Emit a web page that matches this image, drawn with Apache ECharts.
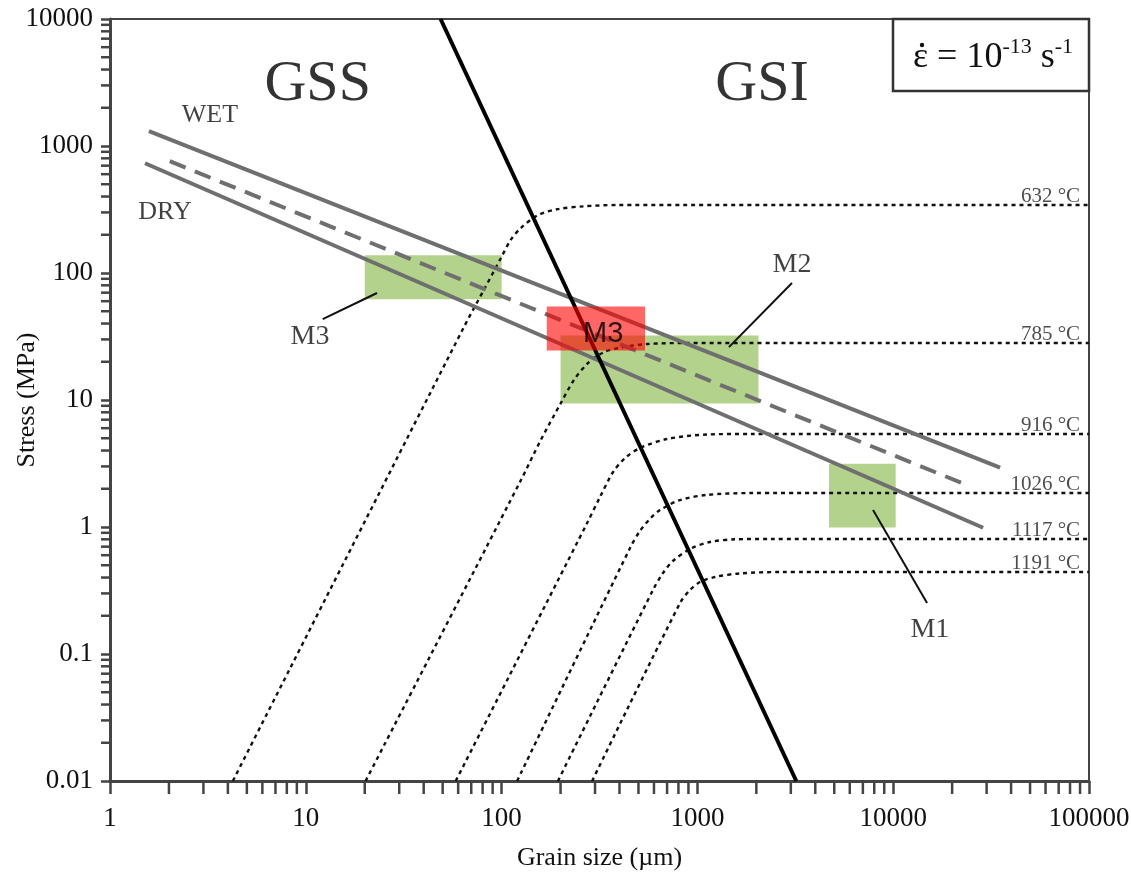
<!DOCTYPE html>
<html>
<head>
<meta charset="utf-8">
<script src="https://cdn.jsdelivr.net/npm/echarts@6/dist/echarts.min.js"></script>
<style>
  html, body { margin: 0; padding: 0; background: #ffffff; }
  #chart { width: 1131px; height: 879px; }
</style>
</head>
<body>
<div id="chart"></div>
<script>
// ---- axis ticks ----
const xTickValues = [1, 10, 100, 1000, 10000, 100000];
const xTickLabels = ['1', '10', '100', '1000', '10000', '100000'];
const yTickValues = [0.01, 0.1, 1, 10, 100, 1000, 10000];
const yTickLabels = ['0.01', '0.1', '1', '10', '100', '1000', '10000'];
const minorMantissas = [2, 3, 4, 5, 6, 7, 8, 9];
const xDecades = [1, 10, 100, 1000, 10000];
const yDecades = [0.01, 0.1, 1, 10, 100, 1000];

// ---- flow laws: grain size (µm) vs stress (MPa) ----
const wetLine = [[1.58, 1309], [35150, 2.93]];
const dryLine = [[1.51, 731], [28800, 0.986]];
const midLine = [[2.02, 759], [23600, 2.15]];
// GSS / GSI field boundary
const boundaryLine = [[48.8, 10000], [3199, 0.01]];

// ---- piezometer curves per temperature ----
const tempLabels = ['632 °C', '785 °C', '916 °C', '1026 °C', '1117 °C', '1191 °C'];
const tempLevels = [343, 28.1, 5.4, 1.85, 0.805, 0.442];
const curve632 = [[4.24, 0.01], [64, 37.2], [80.9, 72.9], [98.9, 130], [111, 181], [125, 225], [153, 285], [193, 318], [262, 335], [391, 343], [100000, 343]];
const curve785 = [[20.2, 0.01], [125, 2.31], [158, 4.79], [200, 9.37], [233, 14.2], [275, 19.4], [331, 23.7], [405, 25.9], [556, 27.6], [889, 28.1], [100000, 28.1]];
const curve916 = [[58.3, 0.01], [273, 1.07], [318, 1.72], [371, 2.71], [427, 3.49], [509, 4.19], [700, 4.93], [1120, 5.35], [1857, 5.4], [100000, 5.4]];
const curve1026 = [[120, 0.01], [453, 0.684], [509, 0.931], [573, 1.16], [644, 1.36], [815, 1.63], [1120, 1.79], [1857, 1.85], [100000, 1.85]];
const curve1117 = [[194, 0.01], [593, 0.319], [667, 0.434], [750, 0.54], [916, 0.671], [1159, 0.762], [1556, 0.8], [2349, 0.805], [100000, 0.805]];
const curve1191 = [[290, 0.01], [815, 0.252], [916, 0.319], [1031, 0.369], [1230, 0.404], [1651, 0.431], [2642, 0.442], [100000, 0.442]];
const tempCurves = [curve632, curve785, curve916, curve1026, curve1117, curve1191];

// ---- sample ranges [dMin, dMax, sMin, sMax] ----
const greenBoxes = [[20, 100, 62, 138], [200, 2050, 9.4, 32.2], [4700, 10300, 0.99, 3.15]];
const redBoxes = [[170, 540, 24.5, 54.5]];

// ---- leader lines for sample labels ----
const leaderM3 = [[12.2, 43.4], [23.1, 69.6]];
const leaderM2 = [[3041, 83.4], [1449, 26.1]];
const leaderM1 = [[7888, 1.36], [14890, 0.252]];

// ---- text annotations [x, y, text] ----
const fieldLabels = [[11.5, 3020, 'GSS'], [2138, 3020, 'GSI']];
const lawLabels = [[3.24, 1754, 'WET'], [1.91, 302, 'DRY']];
const sampleLabels = [[10.5, 31.3, 'M3'], [3041, 116, 'M2'], [15400, 0.155, 'M1']];
const redLabel = [[330, 33.1, 'M3']];
const tempLabelX = 90000;

const SERIF = "'Liberation Serif', 'Times New Roman', serif";
const xMinorTicks = [];
xDecades.forEach(d => minorMantissas.forEach(m => xMinorTicks.push([m * d, 0.01])));
const yMinorTicks = [];
yDecades.forEach(d => minorMantissas.forEach(m => yMinorTicks.push([1, m * d])));

function tickLabel(values, labels) {
  return function (v) {
    const i = values.findIndex(t => Math.abs(Math.log10(t) - Math.log10(v)) < 1e-6);
    return i >= 0 ? labels[i] : '';
  };
}

function boxSeries(boxes, fill, z) {
  return {
    type: 'custom', z: z, silent: true,
    encode: { x: [0, 1], y: [2, 3] },
    data: boxes,
    renderItem: function (params, api) {
      const p0 = api.coord([api.value(0), api.value(3)]);
      const p1 = api.coord([api.value(1), api.value(2)]);
      return { type: 'rect', shape: { x: p0[0], y: p0[1], width: p1[0] - p0[0], height: p1[1] - p0[1] }, style: { fill: fill } };
    }
  };
}

function lineSeries(data, color, width, dash, z) {
  return {
    type: 'line', data: data, z: z, symbol: 'none', silent: true,
    lineStyle: { color: color, width: width, type: dash || 'solid', cap: 'butt' }
  };
}

function textSeries(items, style, z) {
  return {
    type: 'scatter', z: z, symbolSize: 0, silent: true,
    data: items.map(it => ({ value: [it[0], it[1]], label: { formatter: it[2] } })),
    label: Object.assign({ show: true, position: 'inside', align: 'center', verticalAlign: 'middle' }, style)
  };
}

const series = [];
series.push(boxSeries(greenBoxes, '#b3d38d', 1));
tempCurves.forEach(c => {
  const s = lineSeries(c, '#111111', 2.4, [4, 4], 2);
  s.smooth = 0.3;
  series.push(s);
});
series.push(lineSeries(wetLine, '#6f6f6f', 4, null, 3));
series.push(lineSeries(dryLine, '#6f6f6f', 4, null, 3));
series.push(lineSeries(midLine, '#6f6f6f', 4, [17, 10], 3));
series.push(lineSeries(boundaryLine, '#000000', 4, null, 3));
series.push(lineSeries(leaderM3, '#111111', 2, null, 3));
series.push(lineSeries(leaderM2, '#111111', 2, null, 3));
series.push(lineSeries(leaderM1, '#111111', 2, null, 3));
series.push(boxSeries(redBoxes, 'rgba(255,0,0,0.6)', 4));

// minor ticks on both log axes
series.push({
  type: 'custom', z: 6, silent: true, clip: false, data: xMinorTicks,
  renderItem: function (params, api) {
    const p = api.coord([api.value(0), api.value(1)]);
    return { type: 'line', shape: { x1: p[0], y1: p[1], x2: p[0], y2: p[1] + 13 }, style: { stroke: '#444', lineWidth: 2.5 } };
  }
});
series.push({
  type: 'custom', z: 6, silent: true, clip: false, data: yMinorTicks,
  renderItem: function (params, api) {
    const p = api.coord([api.value(0), api.value(1)]);
    return { type: 'line', shape: { x1: p[0] - 9, y1: p[1], x2: p[0], y2: p[1] }, style: { stroke: '#444', lineWidth: 2.5 } };
  }
});

series.push(textSeries(fieldLabels, { fontFamily: SERIF, fontSize: 58, color: '#000' }, 5));
series.push(textSeries(lawLabels, { fontFamily: SERIF, fontSize: 26, color: '#111' }, 5));
series.push(textSeries(sampleLabels, { fontFamily: SERIF, fontSize: 28, color: '#111' }, 5));
series.push(textSeries(redLabel, { fontFamily: "'Liberation Sans', Arial, sans-serif", fontSize: 29, color: '#000' }, 5));
series.push({
  type: 'scatter', z: 5, symbolSize: 0, silent: true,
  data: tempLevels.map((lv, i) => ({ value: [tempLabelX, lv], label: { formatter: tempLabels[i] } })),
  label: { show: true, position: [0, 2], align: 'right', verticalAlign: 'bottom', fontFamily: SERIF, fontSize: 21, color: '#222' }
});

const chart = echarts.init(document.getElementById('chart'), null, { renderer: 'canvas' });
chart.setOption({
  animation: false,
  backgroundColor: '#ffffff',
  grid: {
    left: 110, right: 42, top: 19, bottom: 98, containLabel: false, outerBoundsMode: 'none',
    show: true, borderColor: '#444', borderWidth: 2, backgroundColor: 'transparent'
  },
  xAxis: {
    type: 'log', logBase: 10, min: 1, max: 100000, interval: 1,
    name: 'Grain size (µm)', nameLocation: 'middle', nameGap: 64, nameMoveOverlap: false,
    nameTextStyle: { fontFamily: SERIF, fontSize: 26, color: '#111' },
    axisLine: { lineStyle: { color: '#444', width: 3 } },
    axisTick: { length: 13, lineStyle: { color: '#444', width: 2.5 } },
    axisLabel: { fontFamily: SERIF, fontSize: 27, color: '#111', margin: 24, formatter: tickLabel(xTickValues, xTickLabels) },
    splitLine: { show: false }
  },
  yAxis: {
    type: 'log', logBase: 10, min: 0.01, max: 10000, interval: 1,
    name: 'Stress (MPa)', nameLocation: 'middle', nameGap: 70, nameMoveOverlap: false,
    nameTextStyle: { fontFamily: SERIF, fontSize: 26, color: '#111' },
    axisLine: { lineStyle: { color: '#444', width: 3 } },
    axisTick: { length: 9, lineStyle: { color: '#444', width: 2.5 } },
    axisLabel: { fontFamily: SERIF, fontSize: 27, color: '#111', margin: 17, formatter: tickLabel(yTickValues, yTickLabels) },
    splitLine: { show: false }
  },
  graphic: [
    { type: 'rect', z: 100, shape: { x: 893, y: 19, width: 196, height: 72 }, style: { fill: '#fff', stroke: '#333', lineWidth: 2.5 } },
    {
      type: 'text', z: 101, x: 913, y: 56,
      style: {
        text: '{a|ε = 10}{s|-13}{a| s}{s|-1}',
        align: 'left', verticalAlign: 'middle',
        rich: {
          a: { fontFamily: SERIF, fontSize: 36, lineHeight: 40, fill: '#111', verticalAlign: 'bottom' },
          s: { fontFamily: SERIF, fontSize: 22, lineHeight: 26, fill: '#111', verticalAlign: 'top' }
        }
      }
    },
    // dot accent over the strain-rate symbol
    { type: 'circle', z: 102, shape: { cx: 922, cy: 45, r: 2.2 }, style: { fill: '#111' } }
  ],
  series: series
});
</script>
</body>
</html>
